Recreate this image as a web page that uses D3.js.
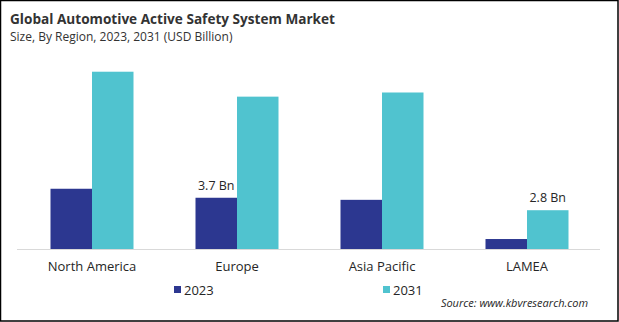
<!DOCTYPE html>
<html>
<head>
<meta charset="utf-8">
<script src="https://cdn.jsdelivr.net/npm/d3@7"></script>
<style>
  html, body { margin: 0; padding: 0; background: #fff; }
  svg { display: block; }
  text { font-family: "Open Sans", "Noto Sans", sans-serif; fill: #262626; }
</style>
</head>
<body>
<div id="chart"></div>
<script>
'use strict';

// chart data
var regions = ['North America', 'Europe', 'Asia Pacific', 'LAMEA'];
var years = ['2023', '2031'];
var values2023 = [4.35, 3.7, 3.55, 0.72];
var values2031 = [12.8, 11.0, 11.3, 2.8];
// only these two bars carry a value label in the original
var shownLabels = [
  { region: 'Europe', year: '2023', text: '3.7 Bn' },
  { region: 'LAMEA', year: '2031', text: '2.8 Bn' }
];

var width = 619, height = 322;
var colors = { '2023': '#2c3790', '2031': '#50c3cf' };

var svg = d3.select('#chart').append('svg')
  .attr('width', width)
  .attr('height', height);

svg.append('rect')
  .attr('x', 0.5).attr('y', 0.5)
  .attr('width', width - 1.5).attr('height', height - 1.5)
  .attr('fill', '#fff')
  .attr('stroke', '#000')
  .attr('stroke-width', 1.5);

// titles
svg.append('text')
  .attr('x', 10).attr('y', 23.5)
  .attr('textLength', 325)
  .attr('lengthAdjust', 'spacingAndGlyphs')
  .style('font-size', '15px')
  .style('font-weight', 'bold')
  .style('fill', '#333')
  .text('Global Automotive Active Safety System Market');

svg.append('text')
  .attr('x', 10).attr('y', 40.5)
  .style('font-size', '12px')
  .style('fill', '#333')
  .text('Size, By Region, 2023, 2031 (USD Billion)');

// scales
var x = d3.scaleBand()
  .domain(regions)
  .range([19.5, 599.5])
  .paddingInner(0.4276)
  .paddingOuter(0.2138);

var xInner = d3.scaleBand()
  .domain(years)
  .range([0, x.bandwidth()]);

var y = d3.scaleLinear()
  .domain([0, 13])
  .range([249, 249 - 13 * 13.85]);

var rows = regions.map(function(r, i){
  return { region: r, values: [
    { year: '2023', value: values2023[i] },
    { year: '2031', value: values2031[i] }
  ]};
});

// bars
var groups = svg.append('g').selectAll('g')
  .data(rows)
  .enter()
  .append('g')
  .attr('transform', function(d){ return 'translate(' + x(d.region) + ',0)'; });

groups.selectAll('rect')
  .data(function(d){ return d.values; })
  .enter()
  .append('rect')
  .attr('x', function(d){ return xInner(d.year); })
  .attr('y', function(d){ return y(d.value); })
  .attr('width', xInner.bandwidth())
  .attr('height', function(d){ return y(0) - y(d.value); })
  .attr('fill', function(d){ return colors[d.year]; });

// value labels
svg.append('g').selectAll('text')
  .data(shownLabels)
  .enter()
  .append('text')
  .attr('x', function(d){ return x(d.region) + xInner(d.year) + xInner.bandwidth() / 2; })
  .attr('y', function(d){
    var i = regions.indexOf(d.region);
    var v = d.year === '2023' ? values2023[i] : values2031[i];
    return y(v) - 8;
  })
  .attr('text-anchor', 'middle')
  .style('font-size', '12.5px')
  .text(function(d){ return d.text; });

// x axis
var axis = svg.append('g')
  .attr('transform', 'translate(0,' + y(0) + ')')
  .call(d3.axisBottom(x).tickSize(0).tickPadding(13));

axis.select('.domain')
  .attr('d', 'M17,0.5H600')
  .attr('stroke', '#d9d9d9');

axis.selectAll('.tick text')
  .style('font-size', '13px')
  .style('font-family', '"Open Sans", sans-serif')
  .attr('fill', '#262626');

// legend
var legendX = { '2023': 174, '2031': 383 };
var legend = svg.append('g').selectAll('g')
  .data(years)
  .enter()
  .append('g')
  .attr('transform', function(d){ return 'translate(' + legendX[d] + ',290)'; });

legend.append('rect')
  .attr('x', 0).attr('y', -4)
  .attr('width', 7).attr('height', 7)
  .attr('fill', function(d){ return colors[d]; });

legend.append('text')
  .attr('x', 10).attr('y', 4.5)
  .style('font-size', '13px')
  .text(function(d){ return d; });

// source
svg.append('text')
  .attr('x', 588).attr('y', 307)
  .attr('text-anchor', 'end')
  .style('font-size', '11px')
  .style('font-style', 'italic')
  .text('Source: www.kbvresearch.com');
</script>
</body>
</html>
